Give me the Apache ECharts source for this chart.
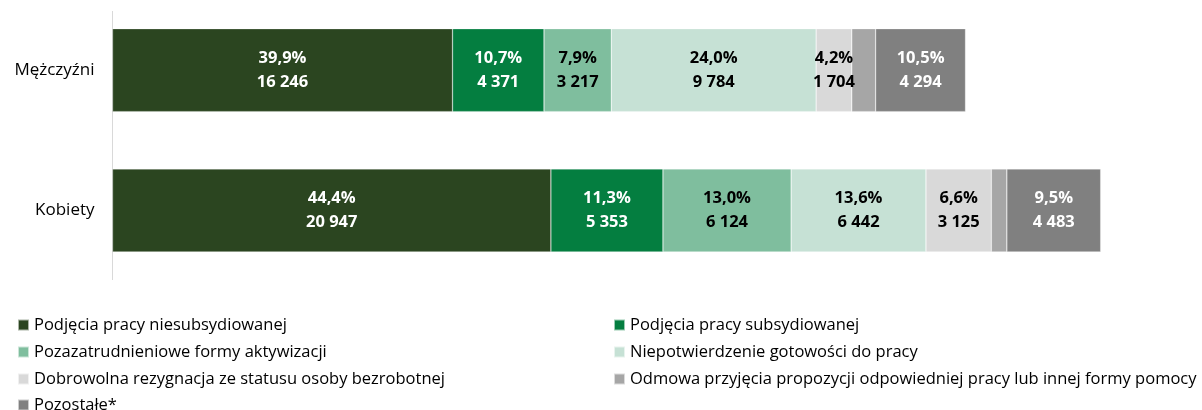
<!DOCTYPE html>
<html>
<head>
<meta charset="utf-8">
<script src="https://cdn.jsdelivr.net/npm/echarts@6/dist/echarts.min.js"></script>
<style>
html,body{margin:0;padding:0;background:#fff;}
#chart{width:1202px;height:410px;}
</style>
</head>
<body>
<div id="chart"></div>
<script>
const categories = ['Mężczyźni', 'Kobiety'];
const seriesNames = [
  'Podjęcia pracy niesubsydiowanej',
  'Podjęcia pracy subsydiowanej',
  'Pozazatrudnieniowe formy aktywizacji',
  'Niepotwierdzenie gotowości do pracy',
  'Dobrowolna rezygnacja ze statusu osoby bezrobotnej',
  'Odmowa przyjęcia propozycji odpowiedniej pracy lub innej formy pomocy',
  'Pozostałe*'
];
const menValues   = [16246, 4371, 3217, 9784, 1704, 1140, 4294];
const womenValues = [20947, 5353, 6124, 6442, 3125, 740, 4483];
const menPct   = [39.9, 10.7, 7.9, 24.0, 4.2, 2.8, 10.5];
const womenPct = [44.4, 11.3, 13.0, 13.6, 6.6, 1.6, 9.5];
const labelShown = [true, true, true, true, true, false, true];

const colors = ['#2B4520', '#047E40', '#7FBE9E', '#C6E1D5', '#D9D9D9', '#A6A6A6', '#808080'];
const labelColors = ['#FFFFFF', '#FFFFFF', '#000000', '#000000', '#000000', '#000000', '#FFFFFF'];

const FONT = 'Open Sans';
function fmtNum(v) { return String(v).replace(/\B(?=(\d{3})+(?!\d))/g, ' '); }
function fmtPct(p) { return p.toFixed(1).replace('.', ',') + '%'; }

const pctByCat = [menPct, womenPct];
const series = seriesNames.map((name, i) => ({
  name: name,
  type: 'bar',
  stack: 'total',
  barWidth: 83,
  data: [menValues[i], womenValues[i]],
  itemStyle: { color: colors[i], borderColor: 'rgba(255,255,255,0.6)', borderWidth: 0.5 },
  label: {
    show: labelShown[i],
    position: 'inside',
    fontFamily: FONT,
    fontWeight: 'bold',
    fontSize: 16.5,
    lineHeight: 24,
    color: labelColors[i],
    formatter: p => fmtPct(pctByCat[p.dataIndex][i]) + '\n' + fmtNum(p.value)
  },
  emphasis: { disabled: true }
}));

// legend layout: [series index, left, row]
const legendSlots = [[0, 17, 0], [1, 613, 0], [2, 17, 1], [3, 613, 1], [4, 17, 2], [5, 613, 2], [6, 17, 3]];
const rowTops = [315, 342, 369, 395];
const legends = legendSlots.map(([si, left, row]) => ({
  left: left,
  top: rowTops[row],
  padding: 0,
  icon: 'rect',
  itemWidth: 11,
  itemHeight: 11,
  selectedMode: false,
  textStyle: { fontFamily: FONT, fontSize: 16.5, lineHeight: 20, color: '#000' },
  data: [seriesNames[si]]
}));

const chart = echarts.init(document.getElementById('chart'), null, { renderer: 'canvas' });
chart.setOption({
  animation: false,
  grid: { left: 112.5, right: 43, top: -3.5, height: 284 },
  xAxis: { type: 'value', min: 0, max: 50000, show: false },
  yAxis: {
    type: 'category',
    data: categories,
    inverse: true,
    axisLine: { show: false },
    axisTick: { show: false },
    axisLabel: { fontFamily: FONT, fontSize: 17, color: '#000', margin: 18 }
  },
  graphic: [{
    type: 'line', shape: { x1: 112.5, y1: 11, x2: 112.5, y2: 280 },
    style: { stroke: '#D9D9D9', lineWidth: 1 }, silent: true
  }],
  legend: legends,
  series: series
});
</script>
</body>
</html>
